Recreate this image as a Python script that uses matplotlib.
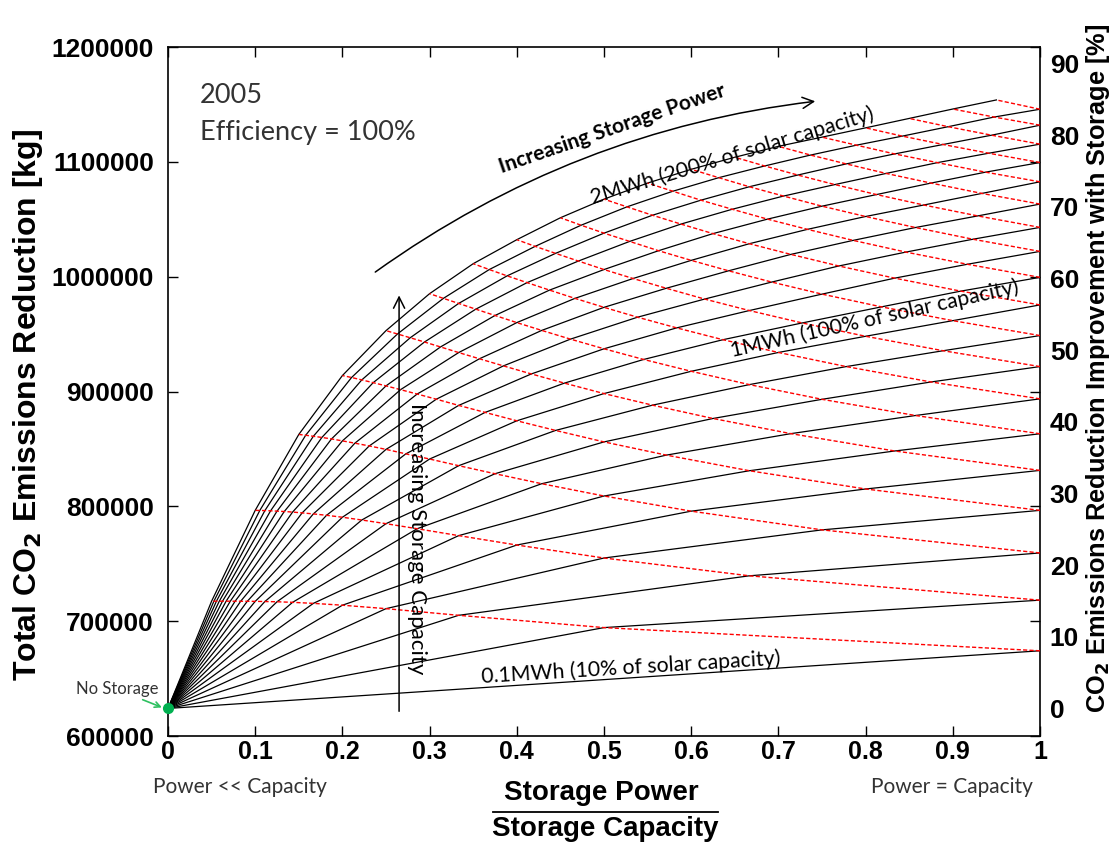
import matplotlib
matplotlib.use('Agg')
import matplotlib.pyplot as plt
from matplotlib.patches import FancyArrowPatch

plt.rcParams['font.family'] = ['Liberation Sans', 'DejaVu Sans']
plt.rcParams['font.weight'] = 'bold'

# CO2 reduction with no storage at all [kg]
no_storage = 624000

# storage power steps [MW] and storage capacity steps [MWh]
power_mw = [0.1, 0.2, 0.3, 0.4, 0.5, 0.6, 0.7, 0.8, 0.9, 1.0,
            1.1, 1.2, 1.3, 1.4, 1.5, 1.6, 1.7, 1.8, 1.9]
capacity_mwh = [0.1, 0.2, 0.3, 0.4, 0.5, 0.6, 0.7, 0.8, 0.9, 1.0,
                1.1, 1.2, 1.3, 1.4, 1.5, 1.6, 1.7, 1.8, 1.9, 2.0]

# total CO2 reduction [kg] for one storage power, capacity = power ... 2 MWh
p01 = [674200, 694400, 705100, 710900, 713900, 715500, 716400, 716900, 717100, 717250,
       717300, 717350, 717350, 717400, 717400, 717400, 717400, 717400, 717400, 717400]
p02 = [718300, 739500, 755000, 766300, 774500, 780500, 784900, 788100, 790500, 792200,
       793400, 794300, 795000, 795500, 795800, 796100, 796300, 796400, 796500]
p03 = [759400, 779500, 795800, 809000, 819700, 828400, 835400, 841200, 845700, 849600,
       852600, 855000, 857000, 858700, 860000, 861000, 861900, 862600]
p04 = [796500, 815100, 831000, 844600, 856100, 866100, 874500, 881800, 887900, 893300,
       897800, 901600, 904900, 907700, 910100, 912200, 913900]
p05 = [831300, 848200, 863300, 876500, 888100, 898200, 907300, 915300, 922300, 928500,
       933900, 938800, 943100, 946800, 950100, 953000]
p06 = [863200, 879100, 893200, 906000, 917600, 927900, 937200, 945600, 953200, 960000,
       966200, 971700, 976700, 981100, 985200]
p07 = [893600, 908300, 921700, 934000, 945100, 955400, 964700, 973300, 981100, 988300,
       994800, 1000700, 1006200, 1011300]
p08 = [921700, 935500, 948100, 959700, 970500, 980500, 989900, 998400, 1006200, 1013600,
       1020300, 1026400, 1032200]
p09 = [948700, 961700, 973700, 984800, 995300, 1005100, 1014200, 1022600, 1030700, 1037900,
       1044800, 1051300]
p10 = [975400, 987400, 998700, 1009300, 1019400, 1028700, 1037500, 1045800, 1053500, 1060800,
       1067500]
p11 = [999400, 1010800, 1021400, 1031600, 1041200, 1050100, 1058700, 1066600, 1074400, 1081500]
p12 = [1022000, 1032600, 1042800, 1052400, 1061400, 1070200, 1078300, 1086200, 1093500]
p13 = [1042900, 1052900, 1062400, 1071500, 1080200, 1088500, 1096400, 1104000]
p14 = [1063200, 1072500, 1081500, 1089900, 1098200, 1105900, 1113500]
p15 = [1082600, 1091000, 1099300, 1106900, 1114500, 1121500]
p16 = [1099400, 1107500, 1115100, 1122400, 1129600]
p17 = [1115400, 1123200, 1130600, 1137800]
p18 = [1131900, 1139000, 1146000]
p19 = [1145800, 1153900]

x_ticks = [0, 0.1, 0.2, 0.3, 0.4, 0.5, 0.6, 0.7, 0.8, 0.9, 1]
x_tick_labels = ['0', '0.1', '0.2', '0.3', '0.4', '0.5', '0.6', '0.7', '0.8', '0.9', '1']
y_ticks = [600000, 700000, 800000, 900000, 1000000, 1100000, 1200000]
pct_ticks = [0, 10, 20, 30, 40, 50, 60, 70, 80, 90]

power_series = [p01, p02, p03, p04, p05, p06, p07, p08, p09, p10,
                p11, p12, p13, p14, p15, p16, p17, p18, p19]

soft = ['Lato', 'DejaVu Sans']

fig = plt.figure(figsize=(11.17, 8.44), dpi=100)
ax = fig.add_axes([168 / 1117, 1 - 736 / 844, 872 / 1117, 689 / 844])

# constant storage capacity curves (black)
for j, cap in enumerate(capacity_mwh):
    xs = [0]
    ys = [no_storage]
    for k in range(min(j + 1, len(power_mw))):
        xs.append(power_mw[k] / cap)
        ys.append(power_series[k][j - k])
    ax.plot(xs, ys, color='black', lw=0.9, zorder=2)

# constant storage power curves (red dashed)
for k, vals in enumerate(power_series):
    xs = [power_mw[k] / c for c in capacity_mwh[k:]]
    ax.plot(xs, vals, color='red', lw=1.0, ls=(0, (3, 1.6)), zorder=3)

ax.plot([0], [no_storage], 'o', color='#00B050', ms=7, clip_on=False, zorder=6)

ax.set_xlim(0, 1)
ax.set_ylim(600000, 1200000)
ax.set_xticks(x_ticks)
ax.set_xticklabels(x_tick_labels, fontsize=18, fontweight='bold')
ax.set_yticks(y_ticks)
ax.set_yticklabels([str(v) for v in y_ticks], fontsize=19, fontweight='bold')
ax.tick_params(direction='in', length=7, width=1, top=True, right=True)
ax.tick_params(axis='x', pad=3)
ax.tick_params(axis='y', pad=10)
for s in ax.spines.values():
    s.set_linewidth(1.2)

sec = ax.secondary_yaxis('right', functions=(lambda v: (v - no_storage) / no_storage * 100,
                                             lambda p: no_storage * (1 + p / 100)))
sec.set_yticks(pct_ticks)
sec.tick_params(length=0, pad=7, labelsize=19)
sec.spines['right'].set_visible(False)

fig.text(1098 / 1117, 1 - 368 / 844,
         'CO$_\\mathbf{2}$ Emissions Reduction Improvement with Storage [%]',
         rotation=90, ha='center', va='center', fontsize=18.3, fontweight='bold')
fig.text(28 / 1117, 1 - 405 / 844, 'Total CO$_\\mathbf{2}$ Emissions Reduction [kg]',
         rotation=90, ha='center', va='center', fontsize=23, fontweight='bold')

# x label as a fraction
ax.text(0.4966, -0.083, 'Storage Power', transform=ax.transAxes, ha='center', va='center',
        fontsize=20, fontweight='bold')
ax.plot([0.373, 0.631], [-0.110, -0.110], transform=ax.transAxes, color='black', lw=1.3,
        clip_on=False)
ax.text(0.501, -0.1345, 'Storage Capacity', transform=ax.transAxes, ha='center', va='center',
        fontsize=20, fontweight='bold')
ax.text(0.0826, -0.074, 'Power << Capacity', transform=ax.transAxes, ha='center', va='center',
        fontfamily=soft, fontsize=15, fontweight='normal', color='#333333')
ax.text(0.899, -0.074, 'Power = Capacity', transform=ax.transAxes, ha='center', va='center',
        fontfamily=soft, fontsize=15, fontweight='normal', color='#333333')

# annotations
ax.text(0.0367, 1151300, '2005', fontfamily=soft, fontsize=19.5, fontweight='normal',
        color='#333333', va='baseline')
ax.text(0.0367, 1119100, 'Efficiency = 100%', fontfamily=soft, fontsize=19.5, fontweight='normal',
        color='#333333', va='baseline')

ax.text(0.4874, 1063500, '2MWh (200% of solar capacity)', fontfamily=soft, fontsize=15.3,
        fontweight='normal', rotation=16.7, rotation_mode='anchor', ha='left', va='baseline')
ax.text(0.6468, 929600, '1MWh (100% of solar capacity)', fontfamily=soft, fontsize=15.3,
        fontweight='normal', rotation=12.6, rotation_mode='anchor', ha='left', va='baseline')
ax.text(0.3597, 646100, '0.1MWh (10% of solar capacity)', fontfamily=soft, fontsize=15.3,
        fontweight='normal', rotation=3.5, rotation_mode='anchor', ha='left', va='baseline')

ax.add_patch(FancyArrowPatch((0.2351, 1002600), (0.7454, 1153000),
                             connectionstyle='arc3,rad=-0.13', arrowstyle='->,head_length=8,head_width=4',
                             color='black', lw=1.1, zorder=4))
ax.text(0.383, 1090400, 'Increasing Storage Power', fontfamily=soft, fontsize=15,
        fontweight='bold', rotation=19, rotation_mode='anchor', ha='left', va='baseline')

ax.annotate('', xy=(0.265, 986100), xytext=(0.265, 619100),
            arrowprops=dict(arrowstyle='->,head_length=0.8,head_width=0.4', color='black', lw=1.1))
ax.text(0.2856, 772200, 'Increasing Storage Capacity', fontfamily=soft, fontsize=16,
        fontweight='normal', rotation=-90, ha='center', va='center')

ax.text(-0.0585, 640900, 'No Storage', fontfamily=soft, fontsize=12, fontweight='normal',
        ha='center', va='center', color='#333333')
ax.annotate('', xy=(-0.004, no_storage), xytext=(-0.032, 632500),
            arrowprops=dict(arrowstyle='->', color='#2EC060', lw=1.2), annotation_clip=False)

fig.savefig('out.png', dpi=100)
